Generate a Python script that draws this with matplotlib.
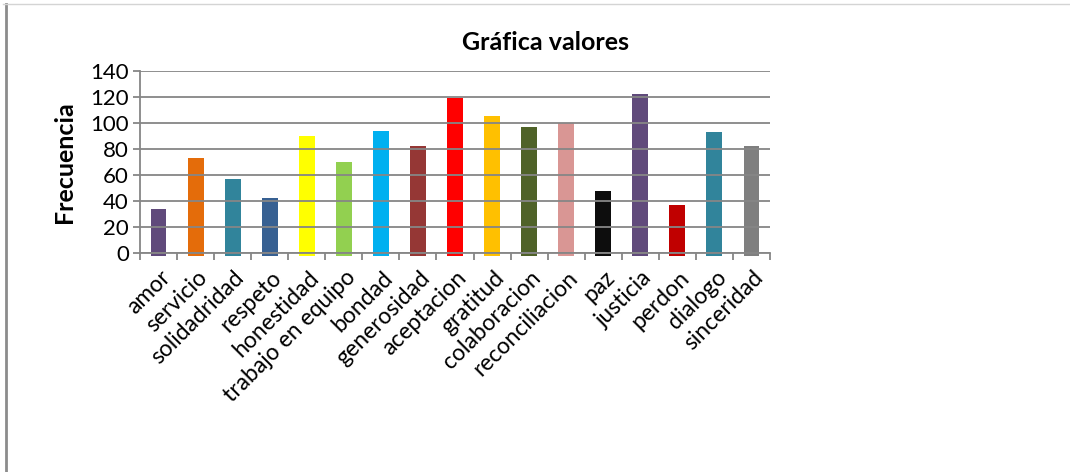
import matplotlib.pyplot as plt
import matplotlib.transforms as mtransforms
import numpy as np

categories = ['amor', 'servicio', 'solidadridad', 'respeto', 'honestidad',
              'trabajo en equipo', 'bondad', 'generosidad', 'aceptacion',
              'gratitud', 'colaboracion', 'reconciliacion', 'paz', 'justicia',
              'perdon', 'dialogo', 'sinceridad']
values = [34, 73, 57, 42, 90, 70, 94, 82, 119, 105, 97, 100, 48, 122, 37, 93, 82]
colors = ['#604A7B', '#E46C0A', '#31849B', '#376092', '#FFFF00', '#92D050',
          '#00B0F0', '#953735', '#FF0000', '#FFC000', '#4F6228', '#D99694',
          '#0D0D0D', '#604A7B', '#C00000', '#31849B', '#7F7F7F']
yticks = [0, 20, 40, 60, 80, 100, 120, 140]

plt.rcParams['font.family'] = ['Lato', 'DejaVu Sans']

fig = plt.figure(figsize=(10.7, 4.72), dpi=100)
ax = fig.add_axes([140 / 1070, 1 - 253 / 472, 630 / 1070, 182 / 472])

x = np.arange(len(categories))
# bars poke a few px below the axis like in the excel original
ax.bar(x, np.array(values) + 2, bottom=-2, width=0.43, color=colors,
       zorder=2, clip_on=False)

ax.set_xlim(-0.5, len(categories) - 0.5)
ax.set_ylim(0, 140)
ax.set_yticks(yticks)
ax.yaxis.grid(True, color='#868686', linewidth=1.3, zorder=3)
ax.set_axisbelow(False)
for s in ['top', 'right']:
    ax.spines[s].set_visible(False)
for s in ['left', 'bottom']:
    ax.spines[s].set_color('#868686')
    ax.spines[s].set_linewidth(1.3)

ax.tick_params(axis='y', length=5, width=1.3, color='#868686', labelsize=16, pad=3)
ax.set_xticks(x)
ax.set_xticklabels(categories, rotation=45, ha='right', va='top',
                   rotation_mode='anchor', fontsize=16.5)
ax.tick_params(axis='x', which='major', length=0, pad=10)
shift = mtransforms.ScaledTranslation(1 / 100, 0, fig.dpi_scale_trans)
for lbl in ax.get_xticklabels():
    lbl.set_transform(lbl.get_transform() + shift)
ax.set_xticks(np.arange(-0.5, len(categories)), minor=True)
ax.tick_params(axis='x', which='minor', length=5, width=1.3, color='#868686')

ax.set_ylabel('Frecuencia', fontsize=18, fontweight='bold', labelpad=10)
fig.text(545 / 1070, 1 - 42 / 472, 'Gráfica valores', ha='center', va='center',
         fontsize=18, fontweight='bold')

# frame lines of the sheet
fig.add_artist(plt.Line2D([5.5 / 1070, 5.5 / 1070], [0, 1 - 4 / 472],
                          transform=fig.transFigure, color='#8c8c8c', linewidth=2))
fig.add_artist(plt.Line2D([3 / 1070, 1], [1 - 4 / 472, 1 - 4 / 472],
                          transform=fig.transFigure, color='#d4d4d4', linewidth=1))

fig.savefig('out.png', dpi=100)
